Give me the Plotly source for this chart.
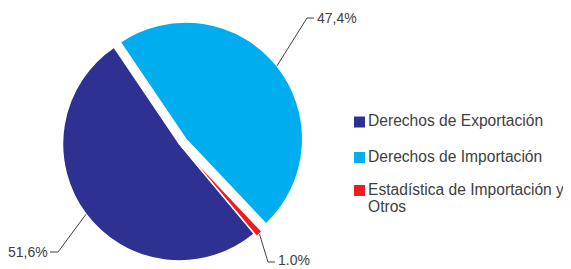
import math
import plotly.graph_objects as go

# ---- data ----
categories = ["Derechos de Exportación", "Derechos de Importación",
              "Estadística de Importación y<br>Otros"]
shares = [51.6, 47.4, 1.0]
value_labels = ["51,6%", "47,4%", "1.0%"]
colors = ["#2E3192", "#00AEEF", "#ED1C24"]
pulls = [0.0, 0.068, 0.03]

# ---- layout constants (page pixel coordinates; page body has an 8px margin) ----
PAGE_W, PAGE_H = 571, 269
OFF = 8
W, H = PAGE_W - OFF, PAGE_H - OFF
CX, CY, R = 179.5, 144.0, 117.0
ROTATION = 140.2
TEXT = "#404040"
FONT = "Liberation Sans, Arial, sans-serif"


def px(x, y):
    return (x - OFF) / W, 1 - (y - OFF) / H


max_pull = max(pulls)
half = R * (1 + max_pull)
x0, y1 = px(CX - half, CY - half)
x1, y0 = px(CX + half, CY + half)
dom_x = [max(0.0, x0), min(1.0, x1)]
dom_y = [max(0.0, y0), min(1.0, y1)]

fig = go.Figure(go.Pie(
    labels=categories, values=shares, sort=False, direction="clockwise",
    rotation=ROTATION, pull=pulls, textinfo="none", hoverinfo="label+percent",
    marker=dict(colors=colors, line=dict(color="white", width=1.5)),
    domain=dict(x=dom_x, y=dom_y), showlegend=False,
))

# leader lines + value labels, start points computed from the slice angles
elbows = [(58, 252, "left"), (307, 18, "right"), (268, 262, "right")]
total = sum(shares)
ang = ROTATION
shapes, annotations = [], []
for i, v in enumerate(shares):
    mid = ang + 360 * v / total / 2
    ang += 360 * v / total
    a = math.radians(mid)
    off = R * pulls[i]
    sx = CX + (R + off) * math.sin(a)
    sy = CY - (R + off) * math.cos(a)
    ex, ey, side = elbows[i]
    hx = ex - 8 if side == "left" else ex + 7
    p0, p1, p2 = px(sx, sy), px(ex, ey), px(hx, ey)
    shapes.append(dict(type="path", xref="paper", yref="paper",
                       path=f"M{p0[0]},{p0[1]} L{p1[0]},{p1[1]} L{p2[0]},{p2[1]}",
                       line=dict(color=TEXT, width=1)))
    tx, ty = px(hx + (-0.5 if side == "left" else 1), min(ey, PAGE_H - 9))
    annotations.append(dict(x=tx, y=ty, xref="paper", yref="paper", showarrow=False,
                            text=value_labels[i], xanchor="right" if side == "left" else "left",
                            yanchor="middle", font=dict(size=14, color=TEXT, family=FONT)))

# manual legend
leg_rows = [122, 157.5, 190.5]
for i, lab in enumerate(categories):
    yc = leg_rows[i]
    a0, a1 = px(354, yc - 5.5), px(365, yc + 5.5)
    shapes.append(dict(type="rect", xref="paper", yref="paper",
                       x0=a0[0], y0=a0[1], x1=a1[0], y1=a1[1],
                       fillcolor=colors[i], line=dict(width=0)))
    for j, line in enumerate(lab.split("<br>")):
        tx, ty = px(366, yc - 1.5 + j * 17.3)
        annotations.append(dict(x=tx, y=ty, xref="paper", yref="paper", showarrow=False,
                                text=line, xanchor="left", yanchor="middle",
                                font=dict(size=15.6, color=TEXT, family=FONT)))

fig.update_layout(width=W, height=H, margin=dict(l=0, r=0, t=0, b=0),
                  paper_bgcolor="white", plot_bgcolor="white",
                  shapes=shapes, annotations=annotations)
fig.write_html("out.html")
